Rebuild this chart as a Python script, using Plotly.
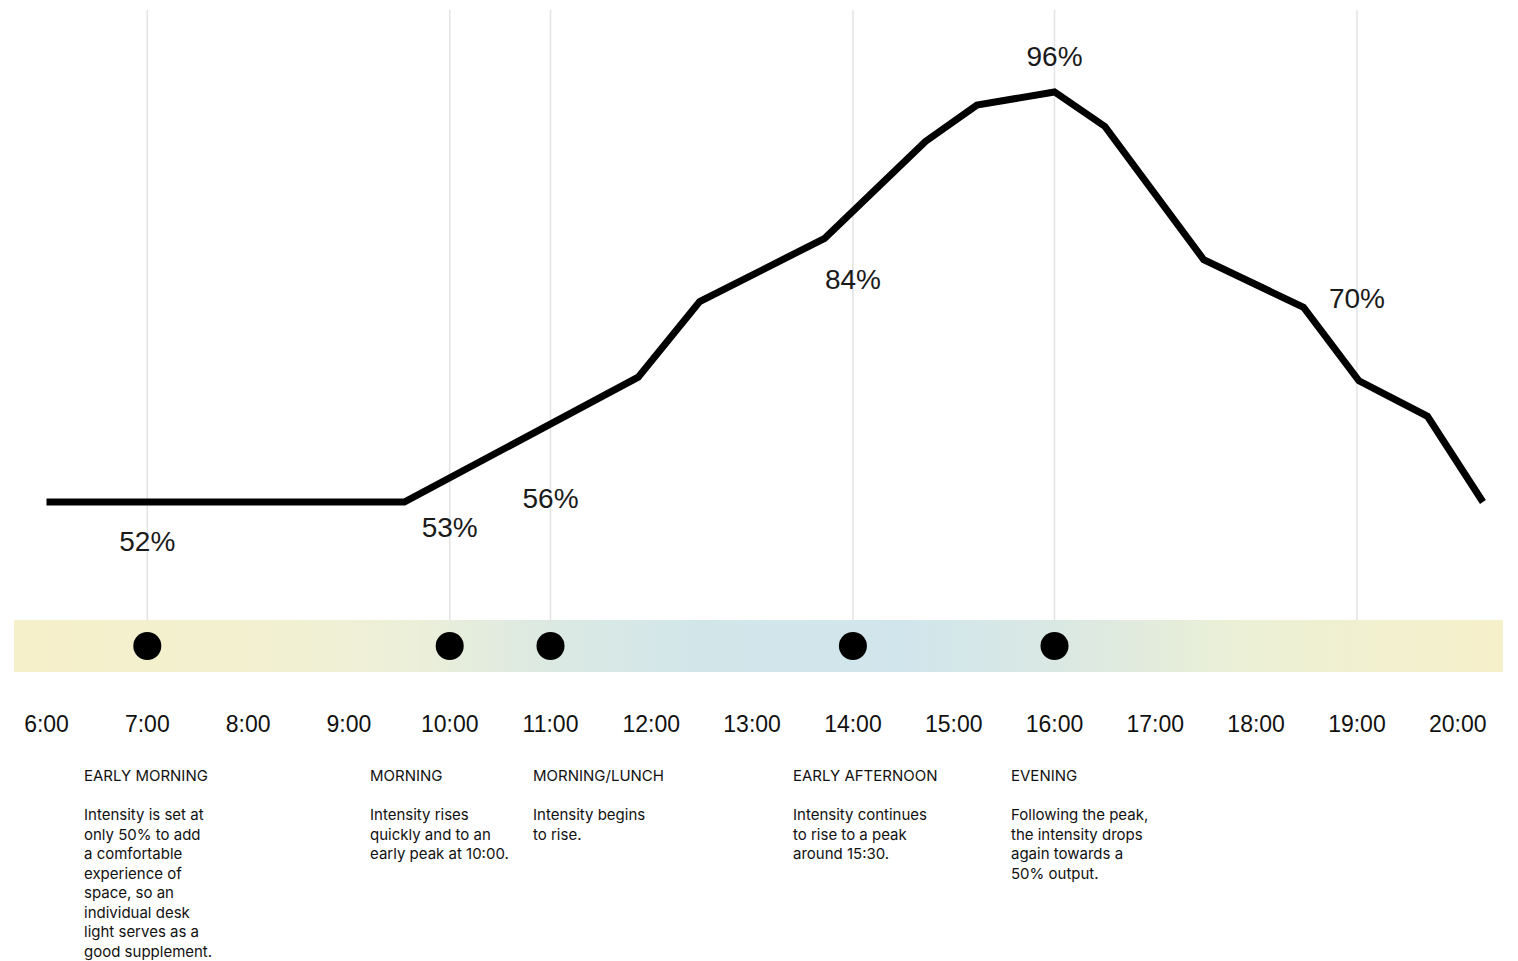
import plotly.graph_objects as go

# intensity curve over the day (hour of day, % output)
hours = [6.0, 9.55, 11.87, 12.48, 13.72, 14.72, 15.23, 16.0, 16.5, 17.48, 18.47, 19.02, 19.7, 20.25]
intensity = [52, 52, 65.4, 73.5, 80.3, 90.7, 94.6, 96, 92.3, 78, 72.9, 65, 61.2, 52]

# highlighted moments
marker_hours = [7, 10, 11, 14, 16, 19]
marker_labels = ["52%", "53%", "56%", "84%", "96%", "70%"]
label_y = [47.5, 49.0, 52.1, 75.6, 99.5, 73.6]
dot_hours = [7, 10, 11, 14, 16]

tick_hours = list(range(6, 21))
tick_text = [f"{h}:00" for h in tick_hours]

phase_titles = ["EARLY MORNING", "MORNING", "MORNING/LUNCH", "EARLY AFTERNOON", "EVENING"]
phase_texts = [
    "Intensity is set at<br>only 50% to add<br>a comfortable<br>experience of<br>space, so an<br>individual desk<br>light serves as a<br>good supplement.",
    "Intensity rises<br>quickly and to an<br>early peak at 10:00.",
    "Intensity begins<br>to rise.",
    "Intensity continues<br>to rise to a peak<br>around 15:30.",
    "Following the peak,<br>the intensity drops<br>again towards a<br>50% output.",
]
phase_x = [6.36, 9.2, 10.82, 13.4, 15.56]

band_colors = [
    [0.0, "#f6f0ca"], [0.16, "#f2f0d0"], [0.27, "#ecefd9"], [0.36, "#dbe9e2"],
    [0.46, "#d2e6ea"], [0.6, "#d1e6ec"], [0.7, "#dae8e3"], [0.83, "#ecf0d5"],
    [1.0, "#f6f0ca"],
]

FONT = "Liberation Sans, Arial, sans-serif"
TEXT_FONT = "Inter, Liberation Sans, sans-serif"

fig = go.Figure()

# colour band behind the dots
fig.add_trace(go.Scatter(
    x=[5.678, 20.45, 20.45, 5.678, 5.678],
    y=[0, 0, 1, 1, 0],
    xaxis="x", yaxis="y2",
    mode="lines", line=dict(width=0),
    fill="toself",
    fillgradient=dict(type="horizontal", colorscale=band_colors),
    hoverinfo="skip", showlegend=False,
))

fig.add_trace(go.Scatter(
    x=dot_hours, y=[0.5] * len(dot_hours),
    xaxis="x", yaxis="y2",
    mode="markers",
    marker=dict(color="black", size=28),
    showlegend=False,
))

fig.add_trace(go.Scatter(
    x=hours, y=intensity,
    mode="lines",
    line=dict(color="black", width=7),
    showlegend=False,
))

fig.add_trace(go.Scatter(
    x=marker_hours, y=label_y,
    mode="text",
    text=marker_labels,
    textfont=dict(family=FONT, size=28, color="#1a1a1a"),
    showlegend=False,
))

for h in marker_hours:
    fig.add_shape(type="line", xref="x", yref="y domain",
                  x0=h, x1=h, y0=0, y1=0.984,
                  line=dict(color="#e3e3e3", width=1.5), layer="below")

for x, title, body in zip(phase_x, phase_titles, phase_texts):
    fig.add_annotation(
        x=x, y=1 - 765 / 961, xref="x", yref="paper",
        xanchor="left", yanchor="top", align="left",
        text=f"{title}<br><br>{body}",
        showarrow=False, borderpad=0,
        font=dict(family=TEXT_FONT, size=15, color="#111111"),
    )

fig.update_layout(
    width=1518, height=961,
    margin=dict(l=0, r=0, t=0, b=0),
    paper_bgcolor="white", plot_bgcolor="rgba(0,0,0,0)",
    xaxis=dict(
        range=[5.5387, 20.598], anchor="y2",
        tickvals=tick_hours, ticktext=tick_text,
        tickfont=dict(family=FONT, size=23, color="#111111"),
        showgrid=False, zeroline=False, showline=False, ticks="",
        ticklabelstandoff=36,
    ),
    yaxis=dict(
        domain=[1 - 620 / 961, 1], range=[39.34, 105.87],
        visible=False,
    ),
    yaxis2=dict(
        domain=[1 - 672 / 961, 1 - 620 / 961], range=[0, 1],
        visible=False,
    ),
)

fig.write_html("out.html", config={"displayModeBar": False},
               post_script="document.body.style.margin='0px';")
